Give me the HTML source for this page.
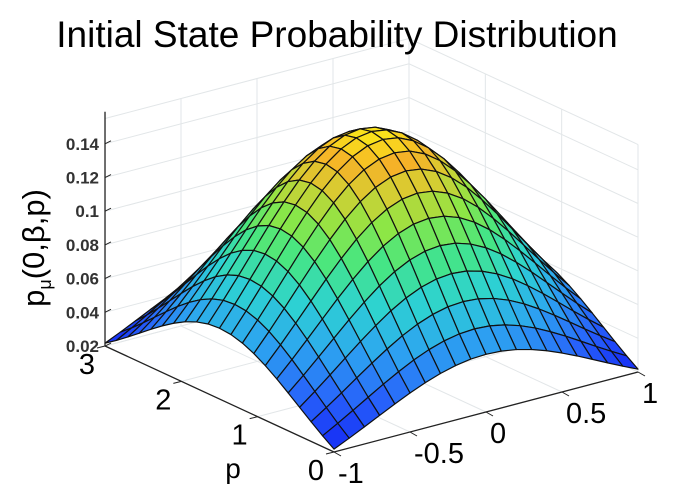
<!DOCTYPE html>
<html><head><meta charset="utf-8"><style>
html,body{margin:0;padding:0;background:#fff;}
svg{display:block;font-family:"Liberation Sans",sans-serif;}
</style></head><body>
<svg id="c" width="675" height="497" viewBox="0 0 675 497">
<g id="walls"></g>
<text x="337" y="47" text-anchor="middle" font-size="37" fill="#000">Initial State Probability Distribution</text>
<g id="surf"></g>
<g id="axes"></g>
<text transform="translate(44,248) rotate(-90)" text-anchor="middle" font-size="31" fill="#000">p<tspan font-size="18" dy="7">μ</tspan><tspan dy="-7">(0,β,p)</tspan></text>
<text x="233" y="478" text-anchor="middle" font-size="28" fill="#000">p</text>
</svg>
<script>
const betaVals=[-1,-0.9,-0.8,-0.7,-0.6,-0.5,-0.4,-0.3,-0.2,-0.1,0,0.1,0.2,0.3,0.4,0.5,0.6,0.7,0.8,0.9,1];
const betaFactor=[0.400,0.476,0.556,0.638,0.719,0.795,0.864,0.921,0.964,0.991,1,0.991,0.964,0.921,0.864,0.795,0.719,0.638,0.556,0.476,0.400];
const pVals=[0,0.15,0.3,0.45,0.6,0.75,0.9,1.05,1.2,1.35,1.5,1.65,1.8,1.95,2.1,2.25,2.4,2.55,2.7,2.85,3];
const pFactor=[0.350,0.427,0.511,0.598,0.685,0.769,0.845,0.910,0.959,0.990,1,0.990,0.959,0.910,0.845,0.769,0.685,0.598,0.511,0.427,0.350];
const peakValue=0.155;
const zTicks=[0.02,0.04,0.06,0.08,0.1,0.12,0.14];
const zTickLabels=["0.02","0.04","0.06","0.08","0.1","0.12","0.14"];
const pTicks=[0,1,2,3];
const betaTicks=[-1,-0.5,0,0.5,1];
const betaTickLabels=["-1","-0.5","0","0.5","1"];

const NS="http://www.w3.org/2000/svg";
const Z0=0.02, ZMAX=0.155, ZPX=33.7/0.02;
function proj(b,p,z){
  const x=334+152*(b+1)-76.33*p;
  const y=452-40*(b+1)-35.33*p-(z-Z0)*ZPX;
  return [x,y];
}
function mk(tag,attrs,parent){const e=document.createElementNS(NS,tag);for(const k in attrs)e.setAttribute(k,attrs[k]);parent.appendChild(e);return e;}
const stops=[[0,[20,40,245]],[0.15,[40,100,250]],[0.3,[45,165,240]],[0.45,[45,210,210]],[0.6,[70,230,130]],[0.72,[140,230,70]],[0.84,[215,205,50]],[0.92,[245,178,40]],[1,[250,232,25]]];
function cmap(t){t=Math.max(0,Math.min(1,t));for(let i=1;i<stops.length;i++){if(t<=stops[i][0]){const a=stops[i-1],b=stops[i];const f=(t-a[0])/(b[0]-a[0]);const c=a[1].map((v,k)=>Math.round(v+(b[1][k]-v)*f));return `rgb(${c[0]},${c[1]},${c[2]})`;}}return 'rgb(250,232,25)';}

const walls=document.getElementById('walls');
const gs="#e2e6e8";
zTicks.concat([ZMAX]).forEach(z=>{
  const a=proj(-1,3,z),b=proj(1,3,z),c=proj(1,0,z);
  const l=mk('polyline',{points:`${a} ${b} ${c}`,fill:'none',stroke:gs,'stroke-width':1},walls);
  
  
});
betaTicks.forEach(b=>{const a=proj(b,3,Z0),t=proj(b,3,ZMAX);
  const l=mk('line',{x1:a[0],y1:a[1],x2:t[0],y2:t[1],stroke:gs},walls);
  
  });
pTicks.forEach(p=>{const a=proj(1,p,Z0),t=proj(1,p,ZMAX);
  const l=mk('line',{x1:a[0],y1:a[1],x2:t[0],y2:t[1],stroke:gs},walls);
  
  });
pTicks.forEach(p=>{const a=proj(-1,p,Z0),t=proj(1,p,Z0);
  const l=mk('line',{x1:a[0],y1:a[1],x2:t[0],y2:t[1],stroke:gs},walls);
  
  });
betaTicks.forEach(b=>{const a=proj(b,0,Z0),t=proj(b,3,Z0);
  const l=mk('line',{x1:a[0],y1:a[1],x2:t[0],y2:t[1],stroke:gs},walls);
  
  });

const surf=document.getElementById('surf');
const Z=betaVals.map((b,i)=>pVals.map((p,j)=>peakValue*betaFactor[i]*pFactor[j]));
let zmin=Infinity,zmax=-Infinity;Z.forEach(r=>r.forEach(v=>{zmin=Math.min(zmin,v);zmax=Math.max(zmax,v);}));
const faces=[];
for(let i=0;i<betaVals.length-1;i++)for(let j=0;j<pVals.length-1;j++){
  const bm=(betaVals[i]+betaVals[i+1])/2,pm=(pVals[j]+pVals[j+1])/2;
  const depth=proj(bm,pm,Z0)[1];
  faces.push({i,j,depth});
}
faces.sort((a,b)=>a.depth-b.depth);
faces.forEach(f=>{
  const {i,j}=f;
  const pts=[[i,j],[i+1,j],[i+1,j+1],[i,j+1]].map(([a,b])=>proj(betaVals[a],pVals[b],Z[a][b]));
  const zc=(Z[i][j]+Z[i+1][j]+Z[i+1][j+1]+Z[i][j+1])/4;
  const el=mk('polygon',{points:pts.map(p=>p.join(',')).join(' '),fill:cmap((zc-zmin)/(zmax-zmin)),stroke:'#111','stroke-width':1.2,'stroke-linejoin':'round'},surf);
  
  
});

const ax=document.getElementById('axes');
const z0=proj(-1,3,Z0),zt=proj(-1,3,ZMAX+0.004);
let e=mk('line',{x1:z0[0],y1:z0[1],x2:zt[0],y2:zt[1],stroke:'#222','stroke-width':1.3},ax);


zTicks.forEach((z,k)=>{const q=proj(-1,3,z);
  const t=mk('line',{x1:q[0],y1:q[1],x2:q[0]+6,y2:q[1]-3,stroke:'#222'},ax);
  
  
  const tx=mk('text',{x:q[0]-6,y:q[1]+6,'text-anchor':'end','font-size':17,'font-weight':'bold',fill:'#333'},ax);tx.textContent=zTickLabels[k];
  
  });
const pa=proj(-1,3,Z0),pb=proj(-1,0,Z0);
e=mk('line',{x1:pa[0],y1:pa[1],x2:pb[0],y2:pb[1],stroke:'#222','stroke-width':1.3},ax);


pTicks.forEach(p=>{const q=proj(-1,p,Z0);
  const t=mk('line',{x1:q[0],y1:q[1],x2:q[0]-8,y2:q[1]+2,stroke:'#222'},ax);
  
  
  const tx=mk('text',{x:q[0]-10,y:q[1]+28,'text-anchor':'end','font-size':29,fill:'#000'},ax);tx.textContent=String(p);
  
  });
const ba=proj(-1,0,Z0),bb=proj(1,0,Z0);
e=mk('line',{x1:ba[0],y1:ba[1],x2:bb[0],y2:bb[1],stroke:'#222','stroke-width':1.3},ax);


betaTicks.forEach((b,k)=>{const q=proj(b,0,Z0);
  const t=mk('line',{x1:q[0],y1:q[1],x2:q[0]+7,y2:q[1]+4,stroke:'#222'},ax);
  
  
  const tx=mk('text',{x:q[0]+4,y:q[1]+31,'text-anchor':'start','font-size':29,fill:'#000'},ax);tx.textContent=betaTickLabels[k];
  
  });
</script>
</body></html>
